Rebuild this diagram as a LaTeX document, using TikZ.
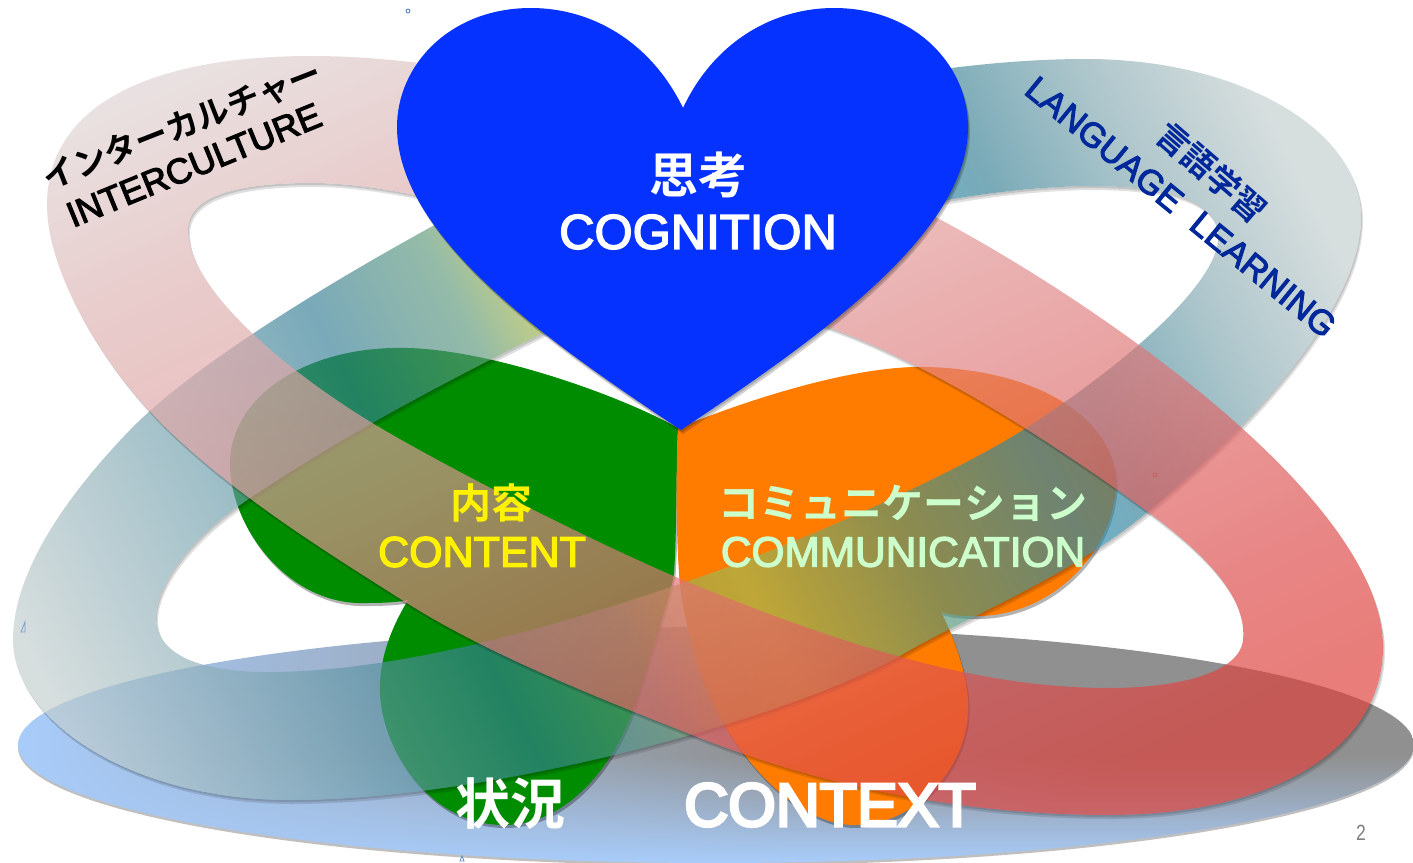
\documentclass[tikz,border=0pt]{standalone}
\usepackage{fontspec}
\setmainfont{Liberation Sans}
\newfontfamily\jp{Noto Sans CJK JP}[BoldFont={Noto Sans CJK JP Bold}]
\newfontfamily\lat{Liberation Sans}[FakeBold=3]
\newfontfamily\latb{Liberation Sans}[FakeBold=5]
\newfontfamily\latn{Liberation Sans}[FakeStretch=0.8]
\pgfdeclarehorizontalshading{ringashade}{100bp}{
 rgb(0bp)=(.761,.804,.804); rgb(30.4bp)=(.761,.804,.804); rgb(41.7bp)=(.208,.494,.584);
 rgb(45.4bp)=(.369,.596,.482); rgb(46.9bp)=(.592,.690,.322); rgb(49.1bp)=(.62,.741,.333);
 rgb(53.8bp)=(.314,.58,.475); rgb(58bp)=(.141,.533,.675); rgb(60.1bp)=(.208,.498,.576);
 rgb(64.1bp)=(.529,.671,.702); rgb(67.9bp)=(.761,.804,.804); rgb(100bp)=(.761,.804,.804)}
\pgfdeclarehorizontalshading{ringbshade}{100bp}{
 rgb(0bp)=(.878,.831,.831); rgb(35.1bp)=(.878,.831,.831); rgb(40.4bp)=(.878,.706,.706);
 rgb(47.6bp)=(.886,.596,.596); rgb(59.8bp)=(.871,.306,.306); rgb(63.7bp)=(.871,.251,.227);
 rgb(100bp)=(.871,.251,.227)}
\pgfdeclarefunctionalshading{groundshade}{\pgfpoint{0bp}{0bp}}{\pgfpoint{100bp}{100bp}}{}{
 25 sub 50 div 0.45 exch sub 0.45 div dup 0 lt {pop 0} if dup 1 gt {pop 1} if
 exch 25 sub 50 div 0.55 div dup 1 gt {pop 1} if dup 0 lt {pop 0} if
 exch 1 exch sub mul
 dup -0.095 mul 0.66 add exch dup -0.235 mul 0.8 add exch -0.415 mul 0.98 add}
\newcommand\ringApath{(1086,59) .. controls (1240,59) and (1361,130) .. (1361,217)
 .. controls (1361,300) and (1270,410) .. (1150,510)
 .. controls (1070,577) and (970,615) .. (905,653)
 .. controls (800,714) and (500,800) .. (290,800)
 .. controls (130,800) and (13,720) .. (13,640)
 .. controls (13,570) and (70,492) .. (130,430)
 .. controls (190,368) and (320,288) .. (431,227)
 .. controls (600,134) and (880,59) .. (1086,59) -- cycle
 (1086,186) .. controls (1170,186) and (1220,200) .. (1218,240)
 .. controls (1216,280) and (1140,355) .. (1023,430)
 .. controls (960,470) and (820,535) .. (700,577)
 .. controls (560,626) and (400,672) .. (268,672)
 .. controls (190,672) and (156,650) .. (156,617)
 .. controls (156,585) and (190,540) .. (237,507)
 .. controls (330,443) and (430,390) .. (533,338)
 .. controls (650,280) and (880,190) .. (1086,186) -- cycle}
\newcommand\ringBpath{(312,56) .. controls (500,56) and (780,135) .. (941,220)
 .. controls (1100,305) and (1383,500) .. (1383,647)
 .. controls (1383,750) and (1270,815) .. (1109,815)
 .. controls (960,815) and (820,785) .. (700,738)
 .. controls (580,691) and (480,650) .. (402,600)
 .. controls (320,548) and (235,495) .. (165,427)
 .. controls (100,363) and (47,270) .. (47,205)
 .. controls (47,105) and (150,56) .. (312,56) -- cycle
 (312,183) .. controls (450,183) and (680,275) .. (836,330)
 .. controls (930,365) and (1050,440) .. (1148,512)
 .. controls (1210,557) and (1247,600) .. (1243,640)
 .. controls (1240,672) and (1180,688) .. (1109,688)
 .. controls (1000,688) and (880,660) .. (700,587)
 .. controls (620,555) and (470,480) .. (384,430)
 .. controls (290,375) and (188,290) .. (188,230)
 .. controls (188,195) and (240,183) .. (312,183) -- cycle}
\newcommand\greenpath{(678,428) .. controls (620,395) and (480,345) .. (393,348) .. controls (300,350) and (228,400) .. (230,467) .. controls (232,530) and (290,606) .. (366,603) .. controls (385,603) and (400,602) .. (408,600) .. controls (390,630) and (379,660) .. (380,693) .. controls (382,750) and (430,825) .. (504,825) .. controls (570,825) and (620,760) .. (640,690) .. controls (660,625) and (672,590) .. (674,573) .. controls (677,530) and (676,470) .. (678,428) -- cycle}
\newcommand\orangepath{(678,428) .. controls (760,395) and (860,365) .. (927,367) .. controls (1040,370) and (1118,420) .. (1116,487) .. controls (1112,555) and (1050,616) .. (977,616) .. controls (960,616) and (950,615) .. (941,612) .. controls (955,640) and (970,680) .. (968,713) .. controls (965,770) and (915,825) .. (855,825) .. controls (790,825) and (725,745) .. (700,673) .. controls (690,640) and (680,600) .. (679,573) .. controls (676,530) and (676,470) .. (678,428) -- cycle}
\newcommand\heartpath{(683,108) .. controls (650,40) and (590,8) .. (531,8) .. controls (450,8) and (397,65) .. (397,127) .. controls (397,235) and (545,340) .. (681,430) .. controls (815,340) and (968,235) .. (968,127) .. controls (968,65) and (915,8) .. (834,8) .. controls (775,8) and (715,40) .. (683,108) -- cycle}
\tikzset{
 jptext/.style={inner sep=0pt,font=\jp\bfseries},
 lattext/.style={inner sep=0pt,font=\lat},
}
\begin{document}
\begin{tikzpicture}[x=1pt,y=-1pt]
\useasboundingbox (0,0) rectangle (1413,862);
\clip (0,0) rectangle (1413,862);
\fill[white] (0,0) rectangle (1413,862);
% ground ellipse
\fill[black,opacity=.25] (716,747.5) ellipse [x radius=698,y radius=118];
\begin{scope}
\clip (716,745) ellipse [x radius=698,y radius=118];
\shade[shading=groundshade] (18,627) rectangle (1414,863);
\end{scope}
% butterfly
\fill[black,opacity=.3,shift={(1.5,3)}] \greenpath;
\fill[black,opacity=.3,shift={(1.5,3)}] \orangepath;
\fill[fill={rgb,255:red,0;green,140;blue,0}] \greenpath;
\fill[fill={rgb,255:red,255;green,124;blue,0}] \orangepath;
% ring A
\begin{scope}[even odd rule]
\clip (-10,-10) rectangle (1423,872) \ringApath;
\fill[black,opacity=.12,shift={(1,2)}] \ringApath;
\fill[black,opacity=.12,shift={(2,4)}] \ringApath;
\end{scope}
\begin{scope}[even odd rule]
\clip \ringApath;
\shade[shading=ringashade,shading angle=26.8,fill opacity=.66] (-194,-469) rectangle (1606,1331);
\end{scope}
% ring B
\begin{scope}[even odd rule]
\clip (-10,-10) rectangle (1423,872) \ringBpath;
\fill[black,opacity=.12,shift={(1,2)}] \ringBpath;
\fill[black,opacity=.12,shift={(2,4)}] \ringBpath;
\end{scope}
\begin{scope}[even odd rule]
\clip \ringBpath;
\shade[shading=ringbshade,shading angle=-65.7,fill opacity=.68] (-219,-469) rectangle (1581,1331);
\end{scope}
% heart
\fill[black,opacity=.18,shift={(1,2)}] \heartpath;
\fill[black,opacity=.18,shift={(2,4)}] \heartpath;
\fill[fill={rgb,255:red,5;green,50;blue,255}] \heartpath;
% labels
\node[jptext,white,font=\jp\bfseries\fontsize{49}{49}\selectfont] (cogj) at (698,175) {思考};
\node[lattext,white,font=\lat\fontsize{49}{49}\selectfont] (coge) at (698,232) {COGNITION};
\node[jptext,yellow,font=\jp\bfseries\fontsize{41}{41}\selectfont] (conj) at (491,503) {内容};
\node[lattext,yellow,font=\lat\fontsize{43}{43}\selectfont] (cone) at (482,552) {CONTENT};
\node[jptext,font=\jp\bfseries\fontsize{41}{41}\selectfont,text={rgb,255:red,204;green,255;blue,204}] (comj) at (903,503) {コミュニケーション};
\node[lattext,font=\lat\fontsize{42.4}{42.4}\selectfont,text={rgb,255:red,204;green,255;blue,204}] (come) at (903,552) {COMMUNICATION};
\node[jptext,white,font=\jp\bfseries\fontsize{55}{55}\selectfont] (ctxj) at (510,804) {状況};
\node[lattext,white,font=\latb\fontsize{61}{61}\selectfont] (ctxe) at (830,805) {CONTEXT};
\node[jptext,black,rotate=21.4,font=\jp\bfseries\fontsize{33}{33}\selectfont] (intj) at (182,125) {インターカルチャー};
\node[lattext,black,rotate=22.3,font=\lat\fontsize{35.5}{35.5}\selectfont] (inte) at (194,165) {INTERCULTURE};
\node[jptext,rotate=-41,font=\jp\bfseries\fontsize{33}{33}\selectfont,text={rgb,255:red,0;green,40;blue,155}] (lanj) at (1212,172) {言語学習};
\node[lattext,rotate=-39.3,font=\lat\fontsize{34.5}{34.5}\selectfont,text={rgb,255:red,0;green,40;blue,155}] (lane) at (1181,207) {LANGUAGE\, \,LEARNING};
\node[inner sep=0pt,font=\latn\fontsize{22}{22}\selectfont,text={rgb,255:red,128;green,128;blue,128}] (pageno) at (1361,833) {2};
% tiny marks
\draw[line width=.9pt,color={rgb,255:red,90;green,140;blue,200}] (408,11) circle (2);
\draw[line width=.8pt,color={rgb,255:red,120;green,160;blue,200}] (25,622) -- (25,632) -- (21,632) -- cycle;
\draw[line width=.8pt,color={rgb,255:red,90;green,140;blue,200}] (462,856) -- (464,861) -- (460,861) -- cycle;
\draw[line width=.7pt,color={rgb,255:red,205;green,90;blue,90}] (1155,475) circle (2);
\end{tikzpicture}
\end{document}
